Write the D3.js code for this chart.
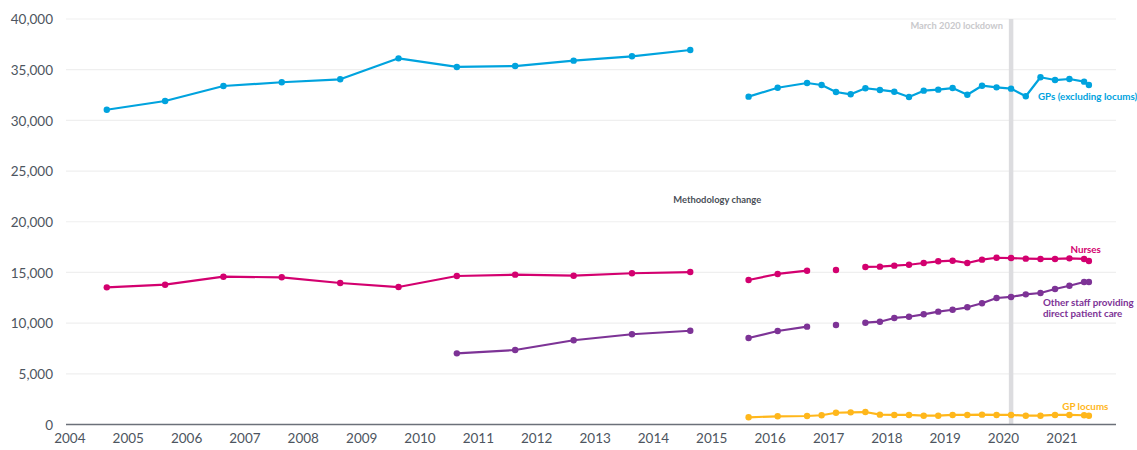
<!DOCTYPE html>
<html><head><meta charset="utf-8">
<script src="https://cdn.jsdelivr.net/npm/d3@7"></script>
<style>
body{margin:0;background:#fff;}
svg{display:block;}
</style></head>
<body>
<svg id="chart" width="1137" height="450"></svg>
<script>
// ---- data ----
const annualDates = ["2004-09","2005-09","2006-09","2007-09","2008-09","2009-09","2010-09","2011-09","2012-09","2013-09","2014-09"];
const gpsAnnual    = [31050,31910,33390,33760,34050,36120,35270,35360,35890,36320,36940];
const nursesAnnual = [13530,13790,14580,14520,13960,13560,14650,14780,14680,14920,15040];
const otherAnnual  = [null,null,null,null,null,null,7020,7350,8310,8900,9250];

const recentDates = ["2015-09","2016-03","2016-09","2016-12","2017-03","2017-06","2017-09","2017-12",
  "2018-03","2018-06","2018-09","2018-12","2019-03","2019-06","2019-09","2019-12",
  "2020-03","2020-06","2020-09","2020-12","2021-03","2021-06","2021-07"];
const gpsRecent    = [32340,33220,33690,33490,32800,32570,33170,33000,32830,32310,32930,33030,33190,32530,33420,33260,33130,32380,34250,33980,34080,33820,33490];
const nursesRecent = [14250,14850,15170,null,15240,null,15540,15570,15670,15760,15930,16100,16160,15930,16260,16450,16420,16360,16330,16330,16390,16330,16130];
const otherRecent  = [8530,9220,9650,null,9820,null,10040,10140,10510,10630,10870,11130,11320,11560,11960,12480,12580,12840,12970,13370,13690,14060,14060];
const locumsRecent = [710,810,840,910,1160,1200,1230,970,940,940,870,870,940,940,970,940,940,870,870,940,940,910,870];

const yTicks = [0,5000,10000,15000,20000,25000,30000,35000,40000];
const xTickYears = [2004,2005,2006,2007,2008,2009,2010,2011,2012,2013,2014,2015,2016,2017,2018,2019,2020,2021];

const lockdownDate = "2020-03";

// ---- setup ----
const parse = d3.timeParse("%Y-%m");
const svg = d3.select("#chart");
const x = d3.scaleTime().domain([new Date(2004,0,1), new Date(2022,0,1)]).range([67.8, 1118.3]);
const y = d3.scaleLinear().domain([0,40000]).range([424.5, 19]);
const plotLeft = 66, plotRight = 1116;

const tickFont = "Lato, 'Open Sans', sans-serif";
const labelFont = "Lato, 'Open Sans', sans-serif";

// gridlines
svg.append("g").selectAll("line").data(yTicks.filter(d=>d>0)).join("line")
  .attr("x1",plotLeft).attr("x2",plotRight)
  .attr("y1",d=>y(d)).attr("y2",d=>y(d))
  .attr("stroke","#efefef").attr("stroke-width",1.2);

// y axis labels
const yAxis = d3.axisLeft(y).tickValues(yTicks).tickSize(0).tickPadding(0).tickFormat(d3.format(","));
const gy = svg.append("g").attr("transform","translate(53,0)").call(yAxis);
gy.select(".domain").remove();
gy.selectAll("text").attr("font-family",tickFont).attr("font-size",13.5).attr("fill","#4d5560").attr("dy","0.35em");

// lockdown line
svg.append("line")
  .attr("x1",x(parse(lockdownDate))).attr("x2",x(parse(lockdownDate)))
  .attr("y1",y(40000)).attr("y2",y(0))
  .attr("stroke","#dcdcdf").attr("stroke-width",4.5);

// x axis
const xAxis = d3.axisBottom(x).tickValues(xTickYears.map(yy=>new Date(yy,0,1))).tickSize(0).tickPadding(0).tickFormat(d3.timeFormat("%Y"));
const gx = svg.append("g").attr("transform",`translate(0,${y(0)})`).call(xAxis);
gx.select(".domain").remove();
gx.selectAll("text").attr("font-family",tickFont).attr("font-size",13.5).attr("fill","#4d5560").attr("dy","1.35em").attr("dx","1.5");
svg.append("line").attr("x1",plotLeft).attr("x2",plotRight).attr("y1",y(0)).attr("y2",y(0))
  .attr("stroke","#6b7079").attr("stroke-width",1.5);

// series
function mk(dates, vals){ return dates.map((d,i)=>({date:parse(d), v:vals[i]})); }
const series = [
  {color:"#00a3de", parts:[mk(annualDates,gpsAnnual), mk(recentDates,gpsRecent)]},
  {color:"#d3006f", parts:[mk(annualDates,nursesAnnual), mk(recentDates,nursesRecent)]},
  {color:"#7d3396", parts:[mk(annualDates,otherAnnual), mk(recentDates,otherRecent)]},
  {color:"#ffb71b", parts:[mk(recentDates,locumsRecent)]}
];
const line = d3.line().defined(d=>d.v!=null).x(d=>x(d.date)).y(d=>y(d.v));

[3,2,1,0].forEach(si=>{
  const s = series[si];
  const g = svg.append("g");
  s.parts.forEach(p=>{
    g.append("path").attr("d",line(p)).attr("fill","none").attr("stroke",s.color).attr("stroke-width",2.2).attr("stroke-linejoin","round");
    g.selectAll(null).data(p.filter(d=>d.v!=null)).join("circle")
      .attr("cx",d=>x(d.date)).attr("cy",d=>y(d.v)).attr("r",3.2).attr("fill",s.color);
  });
});

// annotations
svg.append("text").attr("x",x(parse(lockdownDate))-8).attr("y",y(40000)+10)
  .attr("text-anchor","end").attr("font-family",labelFont).attr("font-weight","bold")
  .attr("font-size",9.3).attr("fill","#c9c9cc").text("March 2020 lockdown");

svg.append("text").attr("x",x(parse("2015-02"))+2.5).attr("y",y(22000)+1.5)
  .attr("text-anchor","middle").attr("font-family",labelFont).attr("font-weight","bold")
  .attr("font-size",9.4).attr("fill","#4a4f57").text("Methodology change");

const lastDate = parse("2021-07");
svg.append("text").attr("x",x(lastDate)-51).attr("y",y(32380)+4)
  .attr("font-family",labelFont).attr("font-weight","bold").attr("font-size",9.8).attr("fill","#00a3de")
  .text("GPs (excluding locums)");
svg.append("text").attr("x",x(lastDate)+12).attr("y",y(17250)+3)
  .attr("text-anchor","end").attr("font-family",labelFont).attr("font-weight","bold").attr("font-size",9.8).attr("fill","#d3006f")
  .text("Nurses");
const ot = svg.append("text").attr("font-family",labelFont).attr("font-weight","bold").attr("font-size",9.8).attr("fill","#7d3396");
ot.append("tspan").attr("x",x(lastDate)-46).attr("y",y(11950)+3).text("Other staff providing");
ot.append("tspan").attr("x",x(lastDate)-46).attr("y",y(10870)+3).text("direct patient care");
svg.append("text").attr("x",x(lastDate)+19.5).attr("y",y(1750)+3)
  .attr("text-anchor","end").attr("font-family",labelFont).attr("font-weight","bold").attr("font-size",9.8).attr("fill","#ffb71b")
  .text("GP locums");
</script>
</body></html>
